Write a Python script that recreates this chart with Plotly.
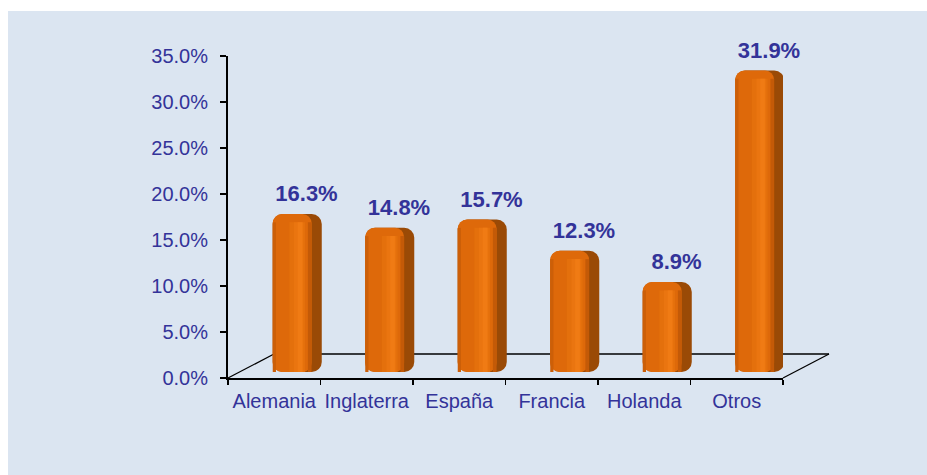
import plotly.graph_objects as go

# ---- data ----
categories = ["Alemania", "Inglaterra", "España", "Francia", "Holanda", "Otros"]
shares = [16.3, 14.8, 15.7, 12.3, 8.9, 31.9]
label_texts = ["16.3%", "14.8%", "15.7%", "12.3%", "8.9%", "31.9%"]
y_ticks = [0, 5, 10, 15, 20, 25, 30, 35]
y_tick_labels = ["0.0%", "5.0%", "10.0%", "15.0%", "20.0%", "25.0%", "30.0%", "35.0%"]

# ---- geometry (page pixels; body margin removed below) ----
W, H = 927, 475
L, R = 228, 783          # x extent of front plane
T, B = 56, 378           # y extent (35% .. 0%)
DX, DY = 46, 24          # depth offset of the floor
PX_PER_UNIT = (B - T) / 35.0
CAT_W = (R - L) / len(categories)

TEXT = "#333399"
BG = "#dbe5f1"
FONT = "Arial, Liberation Sans, sans-serif"

sx = (DX / 2) / CAT_W
sy = (DY / 2 + 2) / PX_PER_UNIT

fig = go.Figure()

# invisible trace anchoring the main (front-plane) axes
fig.add_trace(go.Scatter(
    x=categories, y=shares, mode="markers", marker=dict(opacity=0),
    hoverinfo="skip", showlegend=False,
))

bw = 0.53
off = -bw / 2
base_val = -8 / PX_PER_UNIT

# (offset, width, colour, corner radius, top trim) -> simulated cylinder shading
layers = [
    (off, bw, "#9a4a06", 10, 0),             # dark side face
    (off, 0.42, "#de690a", 9, 0),            # front face
    (off, 0.035, "#cc5f08", 0, 0.9),         # left shading
    (off + 0.18, 0.17, "#e4700c", 0, 0.9),   # soft highlight
    (off + 0.23, 0.10, "#ea7510", 0, 0.9),   # highlight
    (off + 0.27, 0.05, "#f07b14", 0, 0.9),   # bright highlight
    (off + 0.38, 0.04, "#c45a07", 0, 0.9),   # edge towards side
]
for o, w, c, cr, trim in layers:
    fig.add_trace(go.Bar(
        x=categories, y=[v - base_val - trim for v in shares], base=base_val,
        offset=o, width=w, marker=dict(color=c, line=dict(width=0), cornerradius=cr),
        xaxis="x2", yaxis="y2", hoverinfo="skip", showlegend=False,
    ))

fig.add_trace(go.Scatter(
    x=categories, y=shares, text=label_texts, mode="text",
    textposition="top center", cliponaxis=False,
    textfont=dict(family=FONT, size=22, color=TEXT, weight="bold"),
    xaxis="x3", yaxis="y3", hoverinfo="skip", showlegend=False,
))

def px_to_paper(px, py):
    return (px - L) / (R - L), (B - py) / (B - T)

p1 = px_to_paper(L, B)
p2 = px_to_paper(L + DX, B - DY)
p3 = px_to_paper(R + DX, B - DY)
p4 = px_to_paper(R, B)
shapes = [
    dict(type="rect", xref="paper", yref="paper",
         x0=px_to_paper(8, 0)[0], x1=px_to_paper(W + 5, 0)[0],
         y0=px_to_paper(0, 11)[1], y1=px_to_paper(0, H + 5)[1],
         fillcolor=BG, line=dict(width=0), layer="below"),
    dict(type="line", xref="paper", yref="paper", x0=p1[0], y0=p1[1], x1=p2[0], y1=p2[1],
         line=dict(color="black", width=1.3), layer="below"),
    dict(type="line", xref="paper", yref="paper", x0=p2[0], y0=p2[1], x1=p3[0], y1=p3[1],
         line=dict(color="black", width=1.3), layer="below"),
    dict(type="line", xref="paper", yref="paper", x0=p3[0], y0=p3[1], x1=p4[0], y1=p4[1],
         line=dict(color="black", width=1.3), layer="below"),
]

n = len(categories)
fig.update_layout(
    width=W, height=H,
    margin=dict(l=L, r=W - R, t=T, b=H - B, pad=0, autoexpand=False),
    paper_bgcolor="white", plot_bgcolor="rgba(0,0,0,0)",
    barmode="overlay", showlegend=False,
    font=dict(family=FONT, color=TEXT, size=20),
    shapes=shapes,
    xaxis=dict(
        type="category", categoryorder="array", categoryarray=categories,
        range=[-0.5, n - 0.5], showgrid=False, zeroline=False, automargin=False,
        showline=True, linecolor="black", linewidth=2,
        ticks="outside", ticklen=5, tickcolor="black", tickwidth=1.3,
        tickson="boundaries", tickangle=0, tickfont=dict(size=20, color=TEXT),
        ticklabelstandoff=4,
    ),
    yaxis=dict(
        range=[0, 35], tickmode="array", tickvals=y_ticks, ticktext=y_tick_labels,
        showgrid=False, zeroline=False, automargin=False,
        showline=True, linecolor="black", linewidth=2,
        ticks="outside", ticklen=6, tickcolor="black", tickwidth=1.3,
        tickfont=dict(size=20, color=TEXT), ticklabelstandoff=8,
    ),
    xaxis2=dict(
        type="category", categoryorder="array", categoryarray=categories,
        overlaying="x", range=[-0.5 - sx, n - 0.5 - sx], visible=False,
    ),
    yaxis2=dict(overlaying="y", range=[-sy, 35 - sy], visible=False),
    xaxis3=dict(
        type="category", categoryorder="array", categoryarray=categories,
        overlaying="x", range=[-0.5 - sx - 0.1, n - 0.5 - sx - 0.1], visible=False,
    ),
    yaxis3=dict(overlaying="y", range=[-sy - 0.8, 35 - sy - 0.8], visible=False),
)

fig.write_html(
    "out.html",
    config={"displayModeBar": False, "staticPlot": True},
    post_script="document.body.style.margin='0';document.body.style.overflow='hidden';",
)
